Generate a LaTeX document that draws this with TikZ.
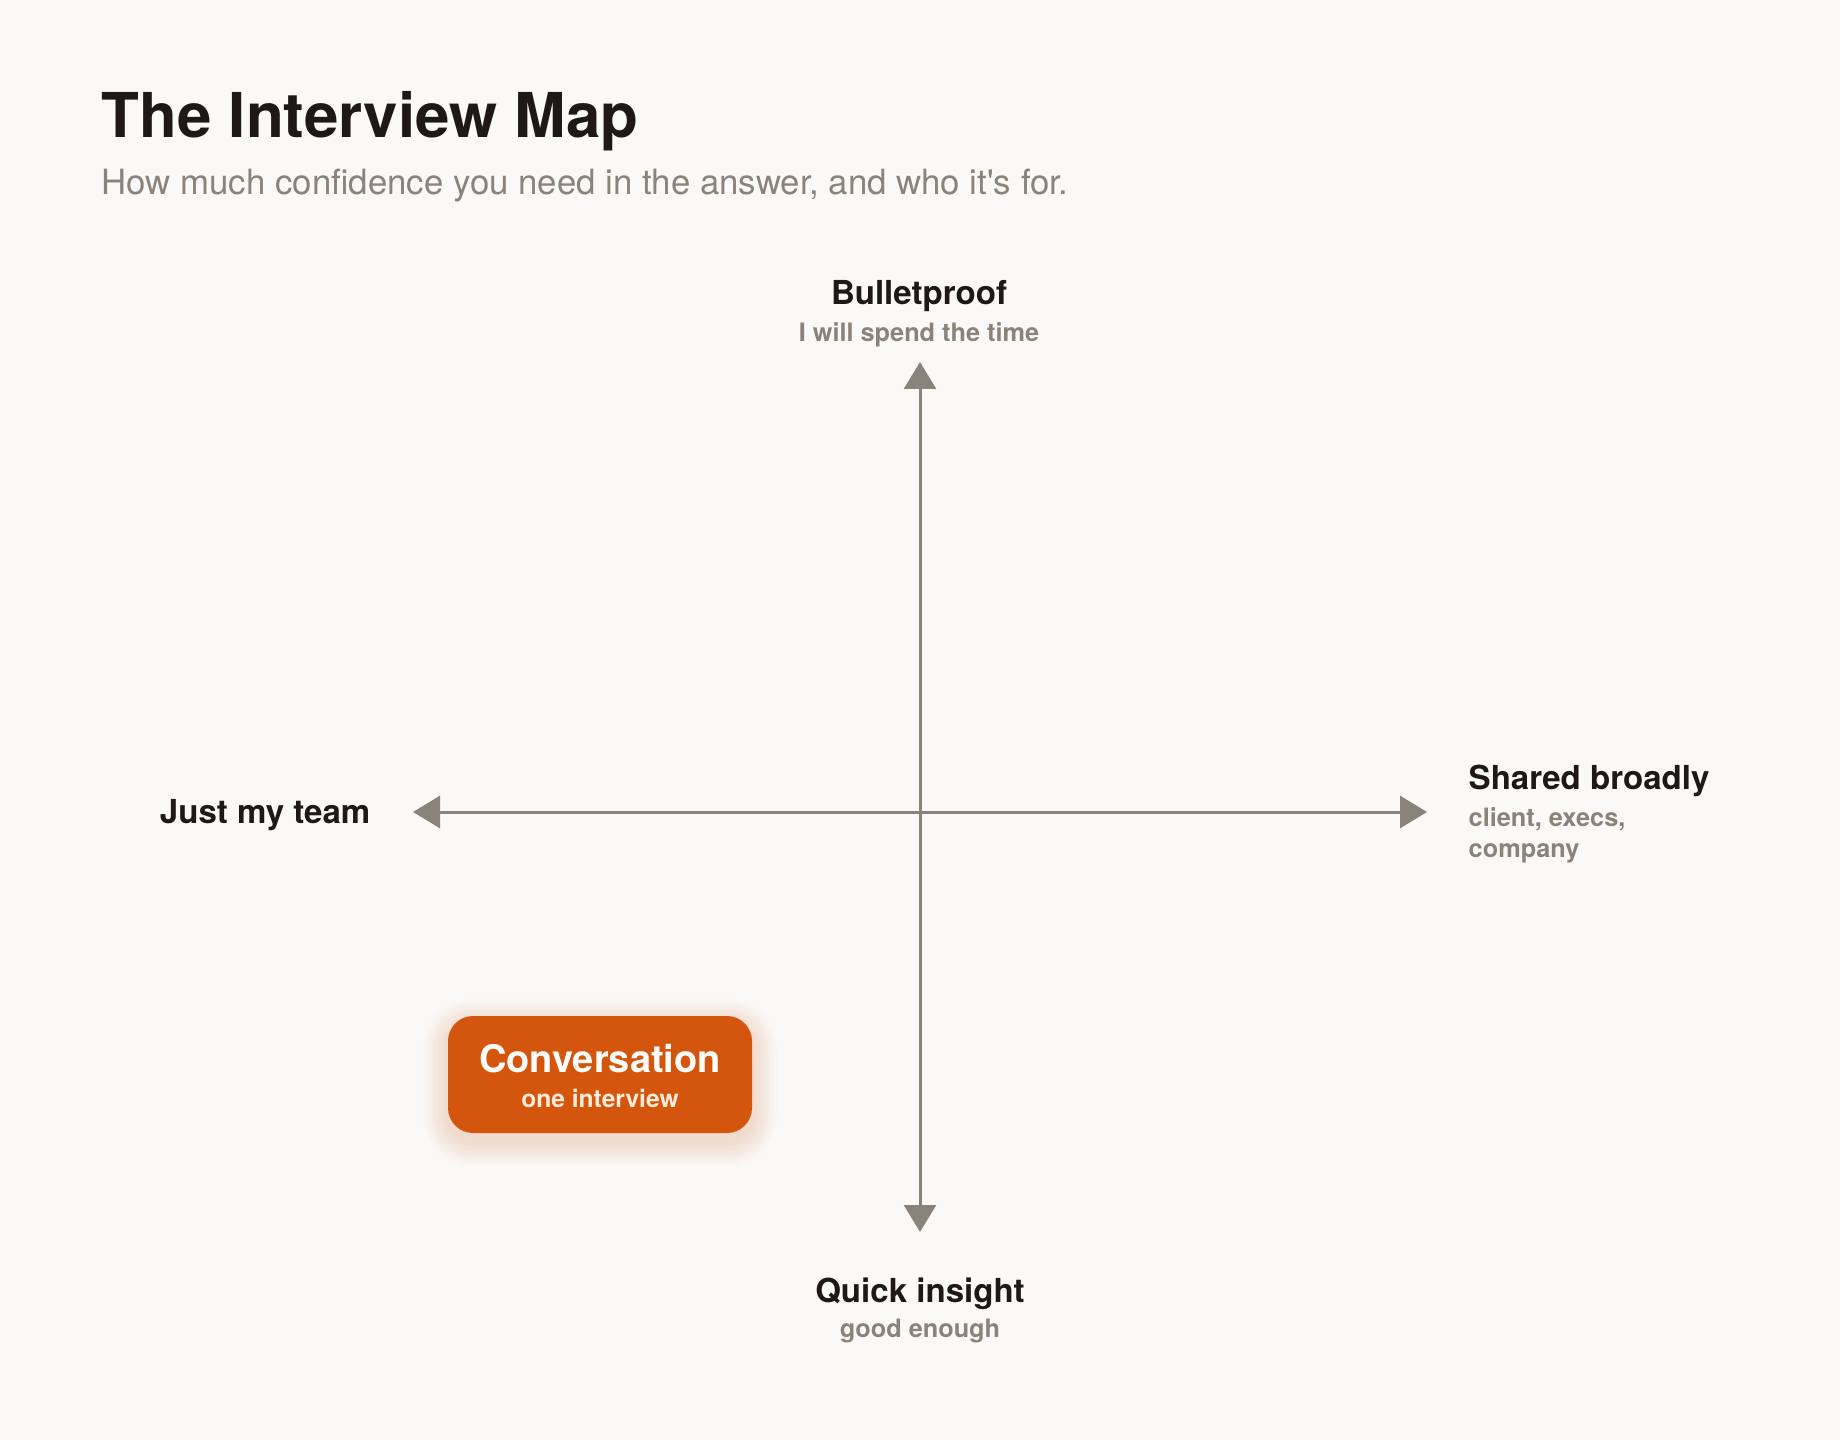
\documentclass[tikz,border=0pt]{standalone}
\usepackage{fontspec}
\setmainfont{TeX Gyre Heros}
\usetikzlibrary{positioning,arrows.meta}
\definecolor{paper}{HTML}{FAF9F7}
\definecolor{ink}{HTML}{1E1916}
\definecolor{muted}{HTML}{8A837B}
\definecolor{accent}{HTML}{D4560C}
\definecolor{cream}{HTML}{FFEBD9}

\tikzset{
  axis/.style={draw=muted,line width=0.3mm,
    {Triangle[width=3.2mm,length=2.7mm]}-{Triangle[width=3.2mm,length=2.7mm]}},
  headtxt/.style={font=\fontsize{9.4}{11}\selectfont\bfseries,text=ink,inner sep=0pt},
  subtxt/.style={font=\fontsize{7.2}{8.8}\selectfont\bfseries,text=muted,inner sep=0pt},
}

\begin{document}
\begin{tikzpicture}[x=0.1mm,y=-0.1mm]
            \fill [paper] (0,0) rectangle (1840,1440);
            \useasboundingbox (0,0) rectangle (1840,1440);

            % heading
            \node [anchor=base west,inner sep=0pt,text=ink,font=\fontsize{17.6}{20}\selectfont\bfseries] (title) at (101,138) {The Interview Map};
            \node [anchor=base west,inner sep=0pt,text=muted,font=\fontsize{9.9}{12}\selectfont] (subtitle) at (101,195) {How much confidence you need in the answer, and who it\textquotesingle s for.};

            % axes
            \coordinate (top) at (920,362);
            \coordinate (bot) at (920,1232);
            \coordinate (lft) at (413,812);
            \coordinate (rgt) at (1427,812);
            \draw [axis] (bot) -- (top);
            \draw [axis] (lft) -- (rgt);

            % axis labels
            \node [headtxt,anchor=base] (bullet) at (919,305) {Bulletproof};
            \node [subtxt,anchor=base] (bulletsub) at (919,342) {I will spend the time};
            \node [headtxt,anchor=base] (quick) at (920,1302) {Quick insight};
            \node [subtxt,anchor=base] (quicksub) at (920,1337) {good enough};
            \node [headtxt,anchor=base east] (team) at (371,823) {Just my team};
            \node [headtxt,anchor=base west] (shared) at (1468,790) {Shared broadly};
            % base of a two-line node sits on its last line
            \node [subtxt,anchor=base west,align=left] (sharedsub) at (1468,857) {client, execs,\\company};

            % glow under the box
            \foreach \i in {1,...,10}
              \fill [accent,opacity=0.015,rounded corners={2.5mm+\i*0.25mm}]
                ({448-2.5*\i},{1024-2.5*\i}) rectangle ({752+2.5*\i},{1141+2.5*\i});
            \node [fill=accent,rounded corners=2.5mm,minimum width=30.4mm,minimum height=11.7mm,inner sep=0pt] (conv) at (600,1074.5) {};
            \node [anchor=base,inner sep=0pt,text=white,font=\fontsize{10.8}{12}\selectfont\bfseries] (convtxt) at (600,1072) {Conversation};
            \node [anchor=base,inner sep=0pt,text=cream,font=\fontsize{7.0}{8}\selectfont\bfseries] (convsub) at (600,1107) {one interview};
        \end{tikzpicture}
\end{document}
